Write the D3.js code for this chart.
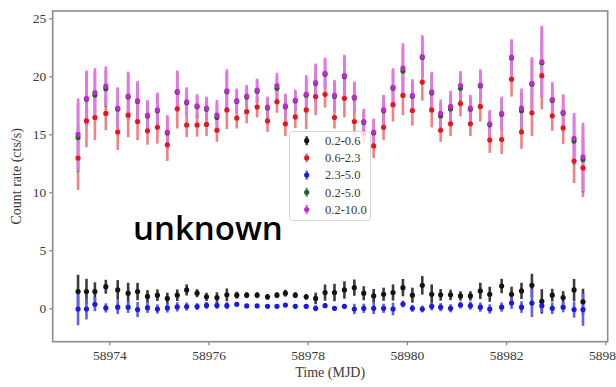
<!DOCTYPE html>
<html>
<head>
<meta charset="utf-8">
<script src="https://cdn.jsdelivr.net/npm/d3@7"></script>
<style>
  body { margin: 0; background: #fff; }
  text { font-family: "Liberation Serif", "DejaVu Serif", serif; }
</style>
</head>
<body>
<div id="chart"></div>
<script>
// Time of each bin (MJD)
const mjd = [58973.37, 58973.54, 58973.71, 58973.93, 58974.17, 58974.38, 58974.57, 58974.77, 58974.97, 58975.17,
  58975.37, 58975.56, 58975.77, 58975.96, 58976.17, 58976.37, 58976.57, 58976.77, 58976.98, 58977.19,
  58977.38, 58977.55, 58977.75, 58977.97, 58978.16, 58978.35, 58978.54, 58978.74, 58978.94, 58979.13,
  58979.33, 58979.53, 58979.72, 58979.92, 58980.11, 58980.31, 58980.50, 58980.68, 58980.88, 58981.08,
  58981.28, 58981.48, 58981.67, 58981.91, 58982.11, 58982.31, 58982.52, 58982.72, 58982.93, 58983.15,
  58983.37, 58983.55];

// 0.2-0.6 keV
const rate_02_06 = [1.44, 1.44, 1.44, 1.86, 1.58, 1.30, 1.44, 1.02, 1.13, 0.85, 1.13, 1.58, 1.30, 0.99, 0.93, 1.16, 1.13, 1.13, 1.13, 0.99,
  1.13, 1.30, 1.13, 0.99, 0.85, 1.36, 1.36, 1.58, 1.78, 1.30, 1.07, 1.21, 1.36, 1.78, 1.13, 1.98, 1.21, 1.16, 1.16, 1.07,
  1.07, 1.50, 1.21, 1.92, 1.21, 1.50, 1.98, 0.59, 1.13, 0.93, 1.58, 0.56];
const err_02_06 = [1.45, 1.10, 0.80, 0.60, 0.85, 0.90, 0.75, 0.55, 0.50, 0.50, 0.50, 0.48, 0.35, 0.35, 0.45, 0.55, 0.30, 0.25, 0.25, 0.25,
  0.25, 0.30, 0.25, 0.25, 0.50, 0.70, 0.75, 0.75, 0.70, 0.60, 0.60, 0.57, 0.70, 0.75, 0.65, 0.80, 0.85, 0.50, 0.45, 0.40,
  0.40, 0.70, 0.65, 0.62, 0.65, 0.70, 1.00, 1.05, 0.55, 0.55, 0.95, 1.13];

// 0.6-2.3 keV
const rate_06_23 = [12.95, 16.15, 16.45, 16.80, 15.20, 16.65, 16.10, 15.30, 15.60, 14.10, 17.20, 15.80, 15.80, 15.85, 15.35, 17.10, 16.40, 16.95, 17.35, 16.15,
  17.80, 15.90, 16.50, 17.10, 18.25, 18.45, 16.45, 18.10, 16.10, 15.10, 14.00, 15.60, 17.55, 18.35, 17.05, 19.50, 17.10, 15.35, 15.90, 17.65,
  15.90, 17.40, 14.50, 14.55, 19.75, 15.20, 16.85, 20.05, 16.60, 15.55, 12.70, 12.10];
const err_06_23 = [2.75, 2.25, 1.95, 1.45, 1.55, 1.90, 1.60, 1.20, 1.40, 1.40, 1.70, 1.05, 1.00, 1.00, 1.00, 1.65, 0.90, 1.00, 0.90, 0.95,
  0.95, 1.05, 0.95, 1.65, 1.60, 1.15, 0.95, 1.65, 1.15, 0.90, 1.05, 1.10, 1.45, 1.70, 1.30, 1.60, 1.50, 1.00, 1.05, 1.10,
  1.05, 1.30, 1.10, 1.25, 1.50, 1.45, 2.00, 2.90, 1.30, 1.40, 1.90, 2.50];

// 2.3-5.0 keV
const rate_23_50 = [-0.06, -0.06, 0.35, 0.03, 0.10, 0.10, -0.11, 0.05, -0.06, 0.03, 0.12, 0.15, 0.15, 0.25, 0.25, 0.23, 0.35, 0.20, 0.20, 0.17,
  0.17, 0.28, 0.17, 0.17, 0.00, 0.23, 0.00, 0.17, -0.06, 0.00, 0.00, 0.00, -0.06, 0.37, 0.00, -0.06, 0.17, 0.10, 0.00, 0.28,
  0.23, 0.10, -0.06, 0.10, 0.45, 0.10, 0.45, 0.23, 0.00, 0.10, -0.11, -0.11];
const err_23_50 = [1.40, 0.90, 0.60, 0.40, 0.60, 0.50, 0.65, 0.45, 0.40, 0.40, 0.40, 0.35, 0.30, 0.30, 0.30, 0.30, 0.20, 0.15, 0.15, 0.15,
  0.15, 0.15, 0.15, 0.20, 0.25, 0.20, 0.20, 0.20, 0.45, 0.40, 0.50, 0.40, 0.55, 0.30, 0.30, 0.30, 0.35, 0.35, 0.35, 0.30,
  0.35, 0.40, 0.40, 0.40, 0.50, 0.50, 1.20, 0.55, 0.50, 0.45, 0.70, 1.40];

// 0.2-5.0 keV
const rate_02_50 = [14.72, 18.02, 18.38, 18.93, 17.17, 18.22, 17.82, 16.57, 17.02, 15.12, 18.62, 17.72, 17.37, 17.17, 16.45, 18.67, 17.82, 18.22, 18.72, 17.27,
  18.97, 17.37, 17.87, 18.37, 19.37, 20.17, 18.27, 19.97, 18.12, 16.02, 15.12, 17.02, 18.97, 20.45, 18.27, 21.62, 18.57, 16.58, 17.18, 18.97,
  17.17, 19.17, 15.82, 16.72, 21.57, 17.02, 19.32, 21.17, 17.92, 16.82, 14.42, 12.82];
const err_02_50 = [3.00, 2.30, 2.00, 1.60, 1.70, 2.00, 1.60, 1.20, 1.40, 1.35, 1.70, 1.15, 0.95, 0.95, 1.20, 1.75, 1.00, 0.90, 0.95, 0.85,
  1.05, 1.00, 0.85, 1.55, 1.55, 1.25, 1.25, 1.70, 1.25, 1.00, 1.05, 1.20, 1.55, 2.05, 1.30, 1.75, 1.65, 1.10, 1.25, 1.15,
  1.05, 1.25, 1.10, 1.35, 1.45, 1.60, 2.15, 3.00, 1.40, 1.45, 2.10, 2.85];

// 0.2-10.0 keV
const rate_02_100 = [15.00, 18.10, 18.60, 19.15, 17.25, 18.30, 17.90, 16.65, 17.10, 15.20, 18.70, 17.80, 17.45, 17.25, 16.65, 18.75, 17.90, 18.30, 18.80, 17.35,
  19.20, 17.45, 17.95, 18.45, 19.45, 20.25, 18.35, 20.05, 18.20, 16.10, 15.20, 17.10, 19.05, 20.70, 18.35, 21.70, 18.65, 16.80, 17.40, 19.20,
  17.25, 19.25, 15.90, 16.80, 21.65, 17.25, 19.40, 21.25, 18.00, 16.90, 14.65, 13.05];
const err_02_100 = [3.10, 2.40, 2.10, 1.70, 1.80, 2.10, 1.70, 1.30, 1.50, 1.45, 1.80, 1.25, 1.00, 1.00, 1.30, 1.85, 1.05, 0.95, 1.00, 0.90,
  1.10, 1.05, 0.90, 1.65, 1.65, 1.35, 1.35, 1.80, 1.35, 1.10, 1.15, 1.30, 1.65, 2.15, 1.40, 1.85, 1.75, 1.20, 1.35, 1.25,
  1.15, 1.35, 1.20, 1.45, 1.55, 1.70, 2.25, 3.10, 1.50, 1.55, 2.20, 2.95];

const bandLabels = ["0.2-0.6", "0.6-2.3", "2.3-5.0", "0.2-5.0", "0.2-10.0"];
const xTicks = [58974, 58976, 58978, 58980, 58982, 58984];
const yTicks = [0, 5, 10, 15, 20, 25];

const series = [
  { label: bandLabels[0], v: rate_02_06, e: err_02_06, dot: "#141414", bar: "#3c3c3c" },
  { label: bandLabels[1], v: rate_06_23, e: err_06_23, dot: "#e8141e", bar: "#f47f84" },
  { label: bandLabels[2], v: rate_23_50, e: err_23_50, dot: "#1a1ae6", bar: "#5f5ff2" },
  { label: bandLabels[3], v: rate_02_50, e: err_02_50, dot: "#2a5e2a", bar: "#4fa44f" },
  { label: bandLabels[4], v: rate_02_100, e: err_02_100, dot: "#bf2ad0", bar: "#f06ef0" }
];

// Chart dimensions
const width = 616;
const height = 387;
const margin = { top: 11, right: 8.3, bottom: 45.3, left: 52.7 };
const innerWidth = width - margin.left - margin.right;
const innerHeight = height - margin.top - margin.bottom;

const svg = d3.select("#chart")
  .append("svg")
  .attr("width", width)
  .attr("height", height);

const chart = svg.append("g")
  .attr("transform", `translate(${margin.left}, ${margin.top})`);

// Scales
const xScale = d3.scaleLinear()
  .domain([58972.859, 58984.048])
  .range([0, innerWidth]);

const yScale = d3.scaleLinear()
  .domain([-2.88, 25.63])
  .range([innerHeight, 0]);

// error bars first, then markers on top
series.forEach(function (s) {
  chart.append("g")
    .selectAll("line")
    .data(mjd)
    .enter()
    .append("line")
    .attr("x1", (d) => xScale(d))
    .attr("x2", (d) => xScale(d))
    .attr("y1", (d, i) => yScale(s.v[i] - s.e[i]))
    .attr("y2", (d, i) => yScale(s.v[i] + s.e[i]))
    .attr("stroke", s.bar)
    .attr("stroke-width", 2.6);
});

series.forEach(function (s) {
  chart.append("g")
    .selectAll("circle")
    .data(mjd)
    .enter()
    .append("circle")
    .attr("cx", (d) => xScale(d))
    .attr("cy", (d, i) => yScale(s.v[i]))
    .attr("r", 2.6)
    .attr("fill", s.dot);
});

// Axes
const xAxis = d3.axisBottom(xScale)
  .tickValues(xTicks)
  .tickFormat(d3.format("d"))
  .tickSize(3.5)
  .tickPadding(5);

const gx = chart.append("g")
  .attr("transform", `translate(0, ${innerHeight})`)
  .call(xAxis);

const yAxis = d3.axisLeft(yScale)
  .tickValues(yTicks)
  .tickSize(3.5)
  .tickPadding(3);

const gy = chart.append("g").call(yAxis);

[gx, gy].forEach(function (g) {
  g.select(".domain").remove();
  g.selectAll(".tick line").attr("stroke", "#8a8a8a").attr("stroke-width", 1.3);
  g.selectAll(".tick text")
    .attr("fill", "#3a3a3a")
    .style("font-size", "13.5px")
    .style("font-family", "'Liberation Serif', serif");
});

// Frame
chart.append("rect")
  .attr("width", innerWidth)
  .attr("height", innerHeight)
  .attr("fill", "none")
  .attr("stroke", "#8c8c8c")
  .attr("stroke-width", 1.6);

// Axis labels
svg.append("text")
  .attr("x", margin.left + innerWidth / 2)
  .attr("y", 377)
  .attr("text-anchor", "middle")
  .attr("fill", "#3a3a3a")
  .style("font-size", "14px")
  .text("Time (MJD)");

svg.append("text")
  .attr("transform", `translate(21, ${margin.top + innerHeight / 2}) rotate(-90)`)
  .attr("text-anchor", "middle")
  .attr("fill", "#3a3a3a")
  .style("font-size", "14px")
  .text("Count rate (cts/s)");

// Legend
const legend = svg.append("g").attr("transform", "translate(289.5, 131.5)");

legend.append("rect")
  .attr("width", 81)
  .attr("height", 89)
  .attr("rx", 3)
  .attr("fill", "#fff")
  .attr("fill-opacity", 0.8)
  .attr("stroke", "#d4d4d4")
  .attr("stroke-width", 1);

const rows = legend.selectAll(".row")
  .data(series)
  .enter()
  .append("g")
  .attr("class", "row")
  .attr("transform", (d, i) => `translate(0, ${9.2 + i * 17.2})`);

rows.append("line")
  .attr("x1", 17.2).attr("x2", 17.2)
  .attr("y1", -4.5).attr("y2", 4.5)
  .attr("stroke", (d) => d.bar)
  .attr("stroke-width", 2.4);

rows.append("circle")
  .attr("cx", 17.2)
  .attr("r", 2.6)
  .attr("fill", (d) => d.dot);

rows.append("text")
  .attr("x", 35.5)
  .attr("y", 4.3)
  .attr("fill", "#3a3a3a")
  .style("font-size", "12.5px")
  .text((d) => d.label);

// Annotation
svg.append("text")
  .attr("x", 133)
  .attr("y", 240)
  .attr("fill", "#000")
  .style("font-family", "'Open Sans', sans-serif")
  .style("font-size", "33px")
  .style("font-weight", 600)
  .text("unknown");
</script>
</body>
</html>
